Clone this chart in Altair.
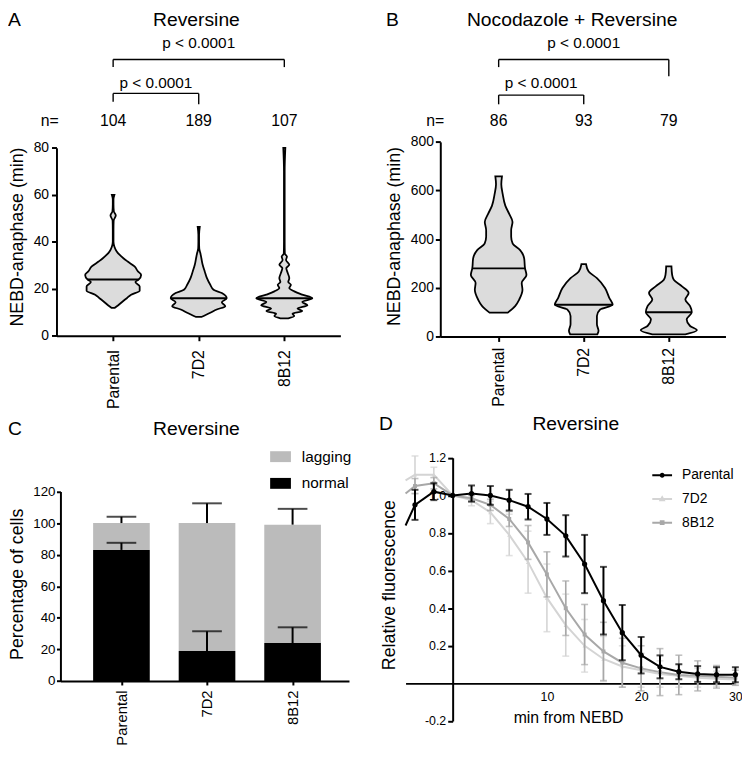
import altair as alt
import pandas as pd

# ------------------------------------------------------------------ data
groups = ["Parental", "7D2", "8B12"]

# Panel A (Reversine): violin outlines, NEBD-anaphase (min) and half-width (share of a category slot)
a_parental_v = [11.9, 13, 14.7, 16, 17.5, 19.2, 21, 22.9, 24, 25.9, 27.4, 29.5, 31.6, 33, 34.4, 36, 37.9, 40, 45, 49, 51.2, 53, 56, 58, 60]
a_parental_w = [0.02, 0.06, 0.115, 0.16, 0.21, 0.31, 0.31, 0.26, 0.30, 0.327, 0.29, 0.25, 0.17, 0.12, 0.077, 0.04, 0.015, 0.004, 0.004, 0.006, 0.031, 0.008, 0.004, 0.004, 0.015]
a_7d2_v = [8, 9.8, 11.2, 12.6, 14.3, 16, 18.2, 19.6, 21.7, 24.5, 27.4, 30.2, 33, 35, 37.2, 40, 43, 46.3]
a_7d2_w = [0.03, 0.135, 0.21, 0.31, 0.27, 0.327, 0.27, 0.173, 0.135, 0.096, 0.07, 0.046, 0.031, 0.02, 0.006, 0.004, 0.004, 0.012]
a_8b12_v = [7.4, 8.4, 9.4, 10.5, 11.6, 13, 14.4, 16, 17.5, 18.9, 20.3, 21.7, 22.9, 24.5, 26.7, 28.8, 30.2, 32.3, 33.7, 35, 40, 50, 60, 70, 80]
a_8b12_w = [0.046, 0.116, 0.096, 0.21, 0.154, 0.27, 0.21, 0.327, 0.21, 0.116, 0.058, 0.077, 0.046, 0.058, 0.04, 0.023, 0.058, 0.02, 0.031, 0.006, 0.004, 0.004, 0.004, 0.004, 0.012]
a_median = [24, 16, 16]
a_n = [104, 189, 107]

# Panel B (Nocodazole + Reversine)
b_parental_v = [98, 125, 152, 192, 220, 253, 280, 321, 355, 382, 410, 437, 471, 504, 538, 586, 626, 658]
b_parental_w = [0.107, 0.194, 0.242, 0.28, 0.271, 0.327, 0.31, 0.30, 0.252, 0.165, 0.147, 0.147, 0.163, 0.124, 0.078, 0.047, 0.031, 0.039]
b_7d2_v = [9, 23, 50, 84, 111, 130, 159, 199, 240, 267, 297]
b_7d2_w = [0.16, 0.174, 0.155, 0.155, 0.194, 0.34, 0.30, 0.25, 0.155, 0.058, 0.027]
b_8b12_v = [9, 26, 43, 70, 100, 125, 152, 179, 206, 233, 253, 288]
b_8b12_w = [0.194, 0.33, 0.25, 0.21, 0.27, 0.25, 0.194, 0.233, 0.155, 0.058, 0.039, 0.031]
b_median = [280, 130, 100]
b_n = [86, 93, 79]

p_text = "p < 0.0001"
comparisons = [(0, 2), (0, 1)]  # upper bracket, lower bracket

# Panel C (Reversine): percentage of cells
c_types = ["lagging", "normal"]
c_normal = [83, 19, 24]
c_normal_sd = [4.5, 12.5, 10]
c_lagging = [17, 81, 75]
c_total_sd = [4, 12.5, 10]

# Panel D (Reversine): relative fluorescence vs min from NEBD
series = ["Parental", "7D2", "8B12"]
d_time = [-6, -4, -2, 0, 2, 4, 6, 8, 10, 12, 14, 16, 18, 20, 22, 24, 26, 28, 30]
d_parental = [0.84, 0.95, 1.02, 1.00, 1.01, 1.00, 0.975, 0.94, 0.875, 0.785, 0.635, 0.44, 0.27, 0.15, 0.088, 0.062, 0.05, 0.046, 0.046]
d_parental_err = [0, 0.08, 0.045, 0, 0.043, 0.05, 0.055, 0.068, 0.085, 0.11, 0.155, 0.18, 0.147, 0.097, 0.061, 0.04, 0.042, 0.04, 0.04]
d_7d2 = [1.08, 1.11, 1.11, 1.00, 0.975, 0.91, 0.79, 0.645, 0.455, 0.31, 0.20, 0.13, 0.09, 0.07, 0.05, 0.04, 0.03, 0.025, 0.02]
d_7d2_err = [0, 0.1, 0.04, 0, 0.03, 0.06, 0.11, 0.165, 0.18, 0.165, 0.14, 0.12, 0.11, 0.09, 0.07, 0.06, 0.05, 0.04, 0.03]
d_8b12 = [1.01, 1.05, 1.065, 1.00, 0.985, 0.95, 0.875, 0.75, 0.58, 0.40, 0.26, 0.17, 0.11, 0.08, 0.06, 0.045, 0.04, 0.035, 0.03]
d_8b12_err = [0, 0.04, 0.03, 0, 0.015, 0.03, 0.04, 0.09, 0.12, 0.145, 0.16, 0.155, 0.13, 0.12, 0.125, 0.105, 0.08, 0.06, 0.04]

# ------------------------------------------------------------------ layout / style
FONT = "Liberation Sans"
W, H = 742, 743
LDX, RDX = -2, -8          # horizontal shift of the left / right column
TDY, BDY = -1, -12         # vertical shift of the top / bottom row


def lx(v):
    return v + LDX


def rx(v):
    return v + RDX


def yt(v):
    return v + TDY


def yb(v):
    return v + BDY


VIOLIN_FILL = "#dcdcdc"
LAGGING = "#bbbbbb"
SERIES_COLORS = ["#000000", "#d4d4d4", "#a8a8a8"]
BAR_HALF = 0.331

AX = dict(domainColor="black", domainWidth=2, tickColor="black", tickWidth=2,
          labelColor="black", titleColor="black", grid=False, labelFlush=False,
          titleFontWeight="normal", labelFont=FONT, titleFont=FONT)

LABEL_EXPR = "[" + ",".join("'%s'" % g for g in groups) + "][datum.value]"


def cat_axis(y_px, pad, fs, tick):
    return alt.Axis(orient="bottom", offset=y_px - H, values=[0, 1, 2], labelExpr=LABEL_EXPR,
                    labelAngle=-90, labelAlign="right", labelBaseline="middle",
                    labelPadding=pad, labelFontSize=fs, tickSize=tick, title=None, **AX)


def val_axis(x_px, values, title, title_base_px, title_center_px, fs, tick, pad, label_expr=None):
    kw = dict(orient="left", offset=-x_px, values=values, labelFontSize=fs, tickSize=tick,
              labelPadding=pad, title=title, titleFontSize=18, titleAngle=270,
              titleAlign="center", titleBaseline="alphabetic",
              titleX=title_base_px - x_px, titleY=title_center_px, **AX)
    if label_expr:
        kw["labelExpr"] = label_expr
    return alt.Axis(**kw)


def text_layer(txt, x, y, size, align="center"):
    return alt.Chart(pd.DataFrame({"t": [txt]})).mark_text(
        fontSize=size, align=align, baseline="alphabetic", font=FONT, color="black"
    ).encode(x=alt.value(x), y=alt.value(y), text="t:N")


def bracket(xs, a, b, y_line, y_end_a, y_end_b, y_text):
    d = pd.DataFrame({"a": [a], "b": [b], "label": [p_text]})
    base = alt.Chart(d)
    xa = alt.X("a:Q", scale=xs, axis=None)
    xb = alt.X("b:Q", scale=xs, axis=None)
    h = base.mark_rule(color="black", strokeWidth=1.4).encode(x=xa, x2="b", y=alt.value(y_line))
    va = base.mark_rule(color="black", strokeWidth=1.4).encode(x=xa, y=alt.value(y_line), y2=alt.value(y_end_a))
    vb = base.mark_rule(color="black", strokeWidth=1.4).encode(x=xb, y=alt.value(y_line), y2=alt.value(y_end_b))
    t = base.transform_calculate(mid="(datum.a + datum.b) / 2").mark_text(
        fontSize=15.5, baseline="alphabetic", font=FONT, color="black"
    ).encode(x=alt.X("mid:Q", scale=xs, axis=None), y=alt.value(y_text), text="label:N")
    return [h, va, vb, t]


def violin_panel(vals, wids, medians, counts, xs, ys, x_axis, y_axis, n_x, n_y, bracket_px):
    rows, med_rows = [], []
    for gi, g in enumerate(groups):
        for v, w in zip(vals[gi], wids[gi]):
            rows.append({"group": g, "pos": gi, "v": v, "hw": w})
        m = medians[gi]
        med_rows.append({"group": g, "pos": gi, "v": m, "hw": wids[gi][vals[gi].index(m)]})
    vdf = pd.DataFrame(rows)
    mdf = pd.DataFrame(med_rows)
    calc = dict(xl="datum.pos - datum.hw", xr="datum.pos + datum.hw")
    violins = alt.Chart(vdf).transform_calculate(**calc).mark_area(
        orient="horizontal", interpolate="monotone", fill=VIOLIN_FILL, stroke="black", strokeWidth=1.8
    ).encode(
        y=alt.Y("v:Q", scale=ys, axis=y_axis),
        x=alt.X("xl:Q", scale=xs, axis=x_axis),
        x2="xr",
        detail="group:N",
    )
    med = alt.Chart(mdf).transform_calculate(**calc).mark_rule(color="black", strokeWidth=2).encode(
        x=alt.X("xl:Q", scale=xs, axis=None), x2="xr", y=alt.Y("v:Q", scale=ys, axis=None)
    )
    ndf = pd.DataFrame({"pos": [0, 1, 2], "n": counts})
    ntext = alt.Chart(ndf).mark_text(fontSize=16, baseline="alphabetic", font=FONT, color="black").encode(
        x=alt.X("pos:Q", scale=xs, axis=None), y=alt.value(n_y), text="n:Q"
    )
    layers = [violins, med, ntext, text_layer("n=", n_x, n_y, 16)]
    for (a, b), px in zip(comparisons, bracket_px):
        layers += bracket(xs, a, b, *px)
    return layers


# ------------------------------------------------------------------ panel A
axs = alt.Scale(domain=[-0.662, 2.655], range=[lx(51), lx(338)], nice=False, zero=False)
ays = alt.Scale(domain=[0, 80], range=[yt(328.3), yt(138.3)], nice=False, zero=False)
panel_a = violin_panel(
    [a_parental_v, a_7d2_v, a_8b12_v], [a_parental_w, a_7d2_w, a_8b12_w], a_median, a_n,
    axs, ays,
    cat_axis(yt(328.3), 9, 16, 5),
    val_axis(lx(51), [0, 20, 40, 60, 80], "NEBD-anaphase (min)", lx(16.7), yt(228), 14, 5, 3),
    lx(44.2), yt(116.7),
    [(yt(49), yt(56.7), yt(56.7), yt(37.3)), (yt(83.3), yt(91.7), yt(94.3), yt(78.3))],
)

# ------------------------------------------------------------------ panel B
bxs = alt.Scale(domain=[-0.686, 2.666], range=[rx(445), rx(733.3)], nice=False, zero=False)
bys = alt.Scale(domain=[0, 800], range=[yt(329), yt(132.3)], nice=False, zero=False)
panel_b = violin_panel(
    [b_parental_v, b_7d2_v, b_8b12_v], [b_parental_w, b_7d2_w, b_8b12_w], b_median, b_n,
    bxs, bys,
    cat_axis(yt(329), 6, 16, 5),
    val_axis(rx(445), [0, 200, 400, 600, 800], "NEBD-anaphase (min)", rx(403.3), yt(227.5), 14, 5, 2),
    rx(440), yt(116.7),
    [(yt(49), yt(56.7), yt(66), yt(37.3)), (yt(85), yt(94.3), yt(94.3), yt(78.3))],
)

# ------------------------------------------------------------------ panel C
cxs = alt.Scale(domain=[-0.713, 2.659], range=[lx(55), lx(346.7)], nice=False, zero=False)
cys = alt.Scale(domain=[0, 120], range=[yb(688.3), yb(496.7)], nice=False, zero=False)
c_rows, e_rows = [], []
for gi, g in enumerate(groups):
    c_rows.append({"group": g, "pos": gi, "type": "normal", "lo": 0, "hi": c_normal[gi]})
    c_rows.append({"group": g, "pos": gi, "type": "lagging", "lo": c_normal[gi], "hi": c_normal[gi] + c_lagging[gi]})
    e_rows.append({"pos": gi, "base": c_normal[gi], "top": c_normal[gi] + c_normal_sd[gi]})
    tot = c_normal[gi] + c_lagging[gi]
    e_rows.append({"pos": gi, "base": tot, "top": tot + c_total_sd[gi]})
cdf = pd.DataFrame(c_rows)
edf = pd.DataFrame(e_rows)

c_legend = alt.Legend(orient="none", legendX=lx(267), legendY=yb(451), title=None,
                      symbolType="M-1,-0.524H1V0.524H-1Z", symbolSize=441, symbolStrokeWidth=0,
                      symbolOpacity=1, labelFontSize=15.5, labelFont=FONT, labelColor="black",
                      labelOffset=11, rowPadding=8, padding=0)
bars = alt.Chart(cdf).transform_calculate(
    xl="datum.pos - %s" % BAR_HALF, xr="datum.pos + %s" % BAR_HALF
).mark_rect().encode(
    x=alt.X("xl:Q", scale=cxs, axis=cat_axis(yb(688.3), 5, 15, 4)),
    x2="xr",
    y=alt.Y("lo:Q", scale=cys, axis=val_axis(lx(55), [0, 20, 40, 60, 80, 100, 120], "Percentage of cells",
                                                lx(16.7), yb(590), 13.5, 4, 1.5)),
    y2="hi",
    color=alt.Color("type:N", scale=alt.Scale(domain=c_types, range=[LAGGING, "#000000"]), legend=c_legend),
)
c_err = alt.Chart(edf).mark_rule(color="black", strokeWidth=2).encode(
    x=alt.X("pos:Q", scale=cxs, axis=None), y=alt.Y("base:Q", scale=cys, axis=None), y2="top"
)
c_caps = alt.Chart(edf).mark_tick(orient="horizontal", size=30, thickness=2, color="black").encode(
    x=alt.X("pos:Q", scale=cxs, axis=None), y=alt.Y("top:Q", scale=cys, axis=None)
)
panel_c = [bars, c_err, c_caps]

# ------------------------------------------------------------------ panel D
dxs = alt.Scale(domain=[-5, 30], range=[rx(409.9), rx(743.3)], nice=False, zero=False, clamp=True)
dys = alt.Scale(domain=[-0.2, 1.2], range=[yb(728.7), yb(462.7)], nice=False, zero=False)
d_rows = []
for s, vals, errs in zip(series, [d_parental, d_7d2, d_8b12], [d_parental_err, d_7d2_err, d_8b12_err]):
    for t, v, e in zip(d_time, vals, errs):
        d_rows.append({"series": s, "t": t, "v": v, "err": e})
dfd = pd.DataFrame(d_rows)

d_x_axis = alt.Axis(orient="bottom", offset=yb(690.7) - H, values=[10, 20, 30], ticks=False,
                    labelPadding=7, labelFontSize=12.5, title="min from NEBD", titleFontSize=16,
                    titleX=rx(574.2), titleY=40, titleAlign="center", titleBaseline="alphabetic", **AX)
d_y_axis = val_axis(rx(457.5), [-0.2, 0.2, 0.4, 0.6, 0.8, 1.0, 1.2], "Relative fluorescence",
                    rx(398.3), yb(590.8), 12.5, 5, 2,
                    label_expr="datum.value < 0 ? '-' + format(-datum.value, '.1f') : format(datum.value, '.1f')")

d_style = {
    "Parental": dict(color=SERIES_COLORS[0], shape="circle", size=28, lw=2, ew=2),
    "7D2": dict(color=SERIES_COLORS[1], shape="triangle-up", size=18, lw=2, ew=1.6),
    "8B12": dict(color=SERIES_COLORS[2], shape="square", size=16, lw=2, ew=1.6),
}
panel_d = []
for i, s in enumerate(["7D2", "8B12", "Parental"]):
    st = d_style[s]
    base = alt.Chart(dfd).transform_filter(alt.datum.series == s)
    first = i == 0
    line = base.mark_line(color=st["color"], strokeWidth=st["lw"]).encode(
        x=alt.X("t:Q", scale=dxs, axis=d_x_axis if first else None),
        y=alt.Y("v:Q", scale=dys, axis=d_y_axis if first else None),
    )
    vis = base.transform_filter("datum.t >= -5")
    eb = vis.transform_filter("datum.err > 0").transform_calculate(
        lo="datum.v - datum.err", hi="datum.v + datum.err"
    )
    rules = eb.mark_rule(color=st["color"], strokeWidth=st["ew"]).encode(
        x=alt.X("t:Q", scale=dxs, axis=None), y=alt.Y("lo:Q", scale=dys, axis=None), y2="hi"
    )
    caps = eb.transform_fold(["lo", "hi"], as_=["end", "yv"]).mark_tick(
        orient="horizontal", size=7, thickness=st["ew"], color=st["color"]
    ).encode(x=alt.X("t:Q", scale=dxs, axis=None), y=alt.Y("yv:Q", scale=dys, axis=None))
    pts = vis.mark_point(filled=True, shape=st["shape"], size=st["size"], color=st["color"], opacity=1).encode(
        x=alt.X("t:Q", scale=dxs, axis=None), y=alt.Y("v:Q", scale=dys, axis=None)
    )
    panel_d += [line, rules, caps, pts]

legend_paths = [
    "M-1,0H1M0.15,0A0.15,0.15,0,1,1,-0.15,0A0.15,0.15,0,1,1,0.15,0Z",
    "M-1,0H1M0,-0.17L0.17,0.12L-0.17,0.12Z",
    "M-1,0H1M-0.14,-0.14H0.14V0.14H-0.14Z",
]
d_leg = dict(orient="none", legendX=rx(658.3), legendY=yb(469.3), title=None, symbolSize=400,
             symbolStrokeWidth=2, symbolOpacity=1, labelFontSize=14, labelFont=FONT,
             labelColor="black", labelOffset=9, rowPadding=6, padding=0)
legend_layer = alt.Chart(dfd).transform_filter("datum.t == 0").mark_point(
    filled=False, opacity=0, strokeWidth=2
).encode(
    x=alt.X("t:Q", scale=dxs, axis=None),
    y=alt.Y("v:Q", scale=dys, axis=None),
    stroke=alt.Stroke("series:N", scale=alt.Scale(domain=series, range=SERIES_COLORS), legend=alt.Legend(**d_leg)),
    shape=alt.Shape("series:N", scale=alt.Scale(domain=series, range=legend_paths), legend=alt.Legend(**d_leg)),
)
panel_d.append(legend_layer)

# ------------------------------------------------------------------ titles and panel letters
texts = [
    text_layer("A", 0, yt(15), 19.5, "left"),
    text_layer("Reversine", lx(192.5), yt(15), 19.5),
    text_layer("B", rx(390), yt(15), 19.5, "left"),
    text_layer("Nocodazole + Reversine", rx(578.3), yt(15), 19.5),
    text_layer("C", 0, yb(440), 19.5, "left"),
    text_layer("Reversine", lx(192.5), yb(440), 19.5),
    text_layer("D", rx(383), yb(435), 19.5, "left"),
    text_layer("Reversine", rx(582), yb(435), 19.5),
]

chart = alt.layer(*(panel_a + panel_b + panel_c + panel_d + texts)).resolve_scale(
    x="independent", y="independent", color="independent", stroke="independent", shape="independent"
).properties(
    width=W, height=H, autosize=alt.AutoSizeParams(type="none"), padding=0, background="white"
).configure(font=FONT, view=alt.ViewConfig(stroke=None))

chart.save("out.html", embed_options={"renderer": "svg", "actions": False})
